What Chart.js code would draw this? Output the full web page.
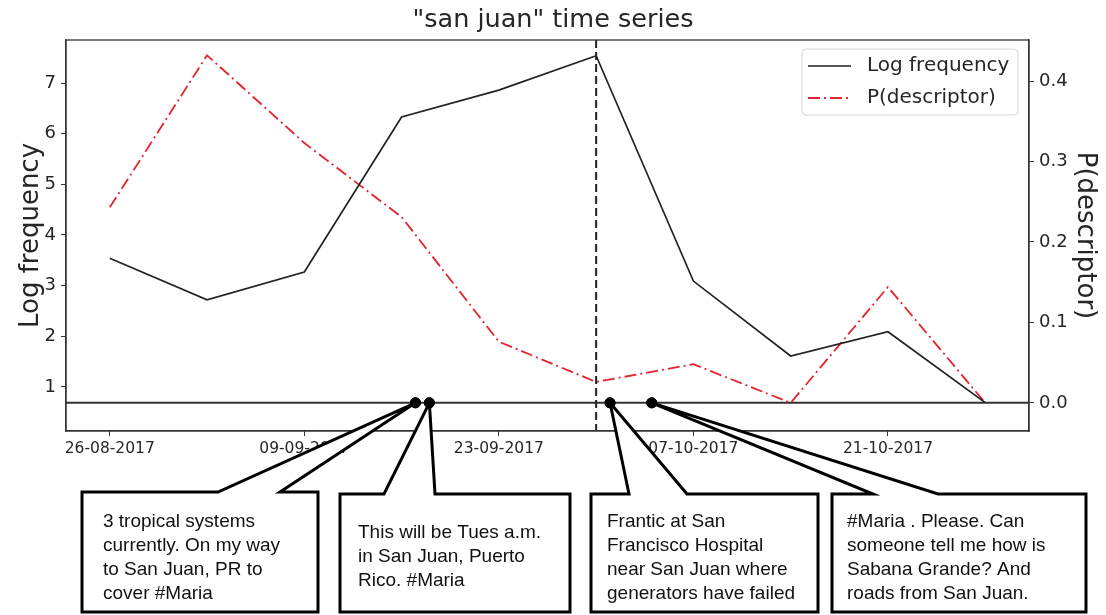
<!doctype html>
<html>
<head>
    <meta charset="UTF-8"/>
    <title>san juan time series</title>
    <style type="text/css">
        body{ margin:0; background:#fff; }
        .chartBox{ width:1106px; height:615px; position:relative; }
    </style>
</head>
<body>
    <div class="chartBox">
        <canvas id="myChart"></canvas>
    </div>

    <script src="https://cdn.jsdelivr.net/npm/chart.js"></script>

    <script>
        // weekly values
        const weekLabels = ['26-08-2017', '02-09-2017', '09-09-2017', '16-09-2017', '23-09-2017',
                            '30-09-2017', '07-10-2017', '14-10-2017', '21-10-2017', '28-10-2017'];
        const logFrequency = [3.54, 2.72, 3.27, 6.33, 6.86, 7.54, 3.09, 1.61, 2.09, 0.69];
        const pDescriptor = [0.243, 0.432, 0.323, 0.231, 0.076, 0.026, 0.048, 0.0, 0.144, 0.0];

        // tweets shown in the callouts
        const tweetDates = ['17-09-2017', '18-09-2017', '01-10-2017', '04-10-2017'];
        const tweetTexts = [
            ['3 tropical systems', 'currently. On my way', 'to San Juan, PR to', 'cover #Maria'],
            ['This will be Tues a.m.', 'in San Juan, Puerto', 'Rico. #Maria'],
            ['Frantic at San', 'Francisco Hospital', 'near San Juan where', 'generators have failed'],
            ['#Maria . Please. Can', 'someone tell me how is', 'Sabana Grande? And', 'roads from San Juan.']
        ];
        const peakDate = '30-09-2017';

        const xTickLabels = ['26-08-2017', '09-09-2017', '23-09-2017', '07-10-2017', '21-10-2017'];
        const leftTicks = [1, 2, 3, 4, 5, 6, 7];
        const rightTicks = [0, 0.1, 0.2, 0.3, 0.4];

        const DAY = 86400000;
        const origin = Date.UTC(2017, 7, 26);
        function toDay(s) {
            const p = s.split('-');
            return (Date.UTC(+p[2], +p[1] - 1, +p[0]) - origin) / DAY;
        }
        function toLabel(v) {
            const d = new Date(origin + Math.round(v) * DAY);
            const dd = String(d.getUTCDate()).padStart(2, '0');
            const mm = String(d.getUTCMonth() + 1).padStart(2, '0');
            return dd + '-' + mm + '-' + d.getUTCFullYear();
        }

        const axisColor = '#333333';
        const textColor = '#262626';

        // callout boxes (layout only), one per tweet
        const boxes = [
            {l: 82,  r: 318,  t: 492, b: 612, w: [218, 280], tx: 103, ty: 522},
            {l: 340, r: 570,  t: 494, b: 612, w: [384, 435], tx: 358, ty: 533},
            {l: 591, r: 818,  t: 494, b: 612, w: [629, 687], tx: 607, ty: 522},
            {l: 832, r: 1086, t: 494, b: 612, w: [873, 938], tx: 847, ty: 522}
        ];

        const overlay = {
            id: 'overlay',
            beforeDatasetsDraw(chart) {
                const {ctx, chartArea: a, scales} = chart;
                ctx.save();
                // baseline at P = 0
                const y0 = scales.y1.getPixelForValue(0);
                ctx.strokeStyle = axisColor;
                ctx.lineWidth = 2;
                ctx.beginPath();
                ctx.moveTo(a.left, y0);
                ctx.lineTo(a.right, y0);
                ctx.stroke();
                // peak marker
                const xp = scales.x.getPixelForValue(toDay(peakDate));
                ctx.setLineDash([8, 4]);
                ctx.strokeStyle = '#222';
                ctx.lineWidth = 2;
                ctx.beginPath();
                ctx.moveTo(xp, a.top);
                ctx.lineTo(xp, a.bottom);
                ctx.stroke();
                ctx.restore();
            },
            afterDraw(chart) {
                const {ctx, chartArea: a, scales} = chart;
                ctx.save();
                // frame
                ctx.strokeStyle = axisColor;
                ctx.lineWidth = 1.3;
                ctx.strokeRect(a.left, a.top, a.right - a.left, a.bottom - a.top);

                // legend
                const lx = a.right - 227, ly = a.top + 9, lw = 216, lh = 66;
                ctx.fillStyle = 'rgba(255,255,255,0.9)';
                ctx.strokeStyle = '#d6d6d6';
                ctx.lineWidth = 1;
                ctx.beginPath();
                ctx.roundRect(lx, ly, lw, lh, 4);
                ctx.fill();
                ctx.stroke();
                ctx.font = '20px "DejaVu Sans"';
                ctx.textBaseline = 'middle';
                chart.data.datasets.slice(0, 2).forEach((ds, i) => {
                    const yy = ly + 17 + i * 32;
                    ctx.strokeStyle = ds.borderColor;
                    ctx.lineWidth = ds.borderWidth;
                    ctx.setLineDash(ds.borderDash || []);
                    ctx.beginPath();
                    ctx.moveTo(lx + 6, yy);
                    ctx.lineTo(lx + 49, yy);
                    ctx.stroke();
                    ctx.setLineDash([]);
                    ctx.fillStyle = textColor;
                    ctx.fillText(ds.label, lx + 65, yy);
                });

                // callouts
                const y0 = scales.y1.getPixelForValue(0);
                ctx.font = '19px "Liberation Sans", Arial, sans-serif';
                ctx.textBaseline = 'middle';
                tweetDates.forEach((d, i) => {
                    const bx = boxes[i];
                    const px = scales.x.getPixelForValue(toDay(d));
                    ctx.beginPath();
                    ctx.moveTo(bx.l, bx.t);
                    ctx.lineTo(bx.w[0], bx.t);
                    ctx.lineTo(px, y0);
                    ctx.lineTo(bx.w[1], bx.t);
                    ctx.lineTo(bx.r, bx.t);
                    ctx.lineTo(bx.r, bx.b);
                    ctx.lineTo(bx.l, bx.b);
                    ctx.closePath();
                    ctx.fillStyle = '#fff';
                    ctx.fill();
                    ctx.strokeStyle = '#000';
                    ctx.lineWidth = 3;
                    ctx.lineJoin = 'miter';
                    ctx.stroke();
                    ctx.fillStyle = '#111';
                    tweetTexts[i].forEach((t, k) => ctx.fillText(t, bx.tx, bx.ty + k * 24));
                });
                // tweet dots on top
                chart.getDatasetMeta(2).data.forEach(p => p.draw(ctx, a));
                ctx.restore();
            }
        };

        const tickFont = {family: 'DejaVu Sans', size: 18};

        const data = {
            datasets: [
                {
                    label: 'Log frequency',
                    data: weekLabels.map((d, i) => ({x: toDay(d), y: logFrequency[i]})),
                    yAxisID: 'y',
                    borderColor: '#222222',
                    borderWidth: 1.7,
                    pointRadius: 0,
                    tension: 0
                },
                {
                    label: 'P(descriptor)',
                    data: weekLabels.map((d, i) => ({x: toDay(d), y: pDescriptor[i]})),
                    yAxisID: 'y1',
                    borderColor: '#e3232e',
                    borderWidth: 1.8,
                    borderDash: [12, 4, 2, 4],
                    pointRadius: 0,
                    tension: 0
                },
                {
                    label: 'tweets',
                    type: 'scatter',
                    data: tweetDates.map(d => ({x: toDay(d), y: 0})),
                    yAxisID: 'y1',
                    pointRadius: 5,
                    backgroundColor: '#000',
                    borderColor: '#000',
                    showLine: false
                }
            ]
        };

        const config = {
            type: 'line',
            data: data,
            options: {
                responsive: true,
                maintainAspectRatio: false,
                animation: false,
                layout: {padding: 0},
                plugins: {
                    legend: {display: false},
                    tooltip: {enabled: false},
                    title: {
                        display: true,
                        text: '"san juan" time series',
                        color: textColor,
                        font: {family: 'DejaVu Sans', size: 25.5, weight: 'normal'},
                        padding: {top: 5, bottom: 4.4}
                    }
                },
                scales: {
                    x: {
                        type: 'linear',
                        min: -3.15,
                        max: 66.15,
                        afterBuildTicks: s => { s.ticks = xTickLabels.map(l => ({value: toDay(l)})); },
                        afterFit: s => { s.height = 184; },
                        ticks: {
                            callback: v => toLabel(v),
                            font: {family: 'DejaVu Sans', size: 15.5},
                            color: textColor,
                            padding: 4,
                            maxRotation: 0,
                            autoSkip: false
                        },
                        grid: {display: true, drawOnChartArea: false, tickLength: 5, color: axisColor},
                        border: {display: true, color: axisColor, width: 1.3}
                    },
                    y: {
                        position: 'left',
                        min: 0.13,
                        max: 7.85,
                        afterBuildTicks: s => { s.ticks = leftTicks.map(v => ({value: v})); },
                        afterFit: s => { s.width = 66; },
                        ticks: {font: tickFont, color: textColor, padding: 5},
                        grid: {display: true, drawOnChartArea: false, tickLength: 5, color: axisColor},
                        border: {display: true, color: axisColor, width: 1.3},
                        title: {
                            display: true,
                            text: 'Log frequency',
                            color: textColor,
                            font: {family: 'DejaVu Sans', size: 26},
                            padding: {top: 16, bottom: 0}
                        }
                    },
                    y1: {
                        position: 'right',
                        min: -0.035,
                        max: 0.451,
                        afterBuildTicks: s => { s.ticks = rightTicks.map(v => ({value: v})); },
                        afterFit: s => { s.width = 77; },
                        ticks: {font: tickFont, color: textColor, padding: 5, callback: v => v.toFixed(1)},
                        grid: {display: true, drawOnChartArea: false, tickLength: 5, color: axisColor},
                        border: {display: true, color: axisColor, width: 1.3},
                        title: {
                            display: true,
                            text: 'P(descriptor)',
                            color: textColor,
                            font: {family: 'DejaVu Sans', size: 26},
                            padding: {top: 6, bottom: 0}
                        }
                    }
                }
            },
            plugins: [overlay]
        };

        const myChart = new Chart(document.getElementById('myChart'), config);
    </script>
</body>
</html>
